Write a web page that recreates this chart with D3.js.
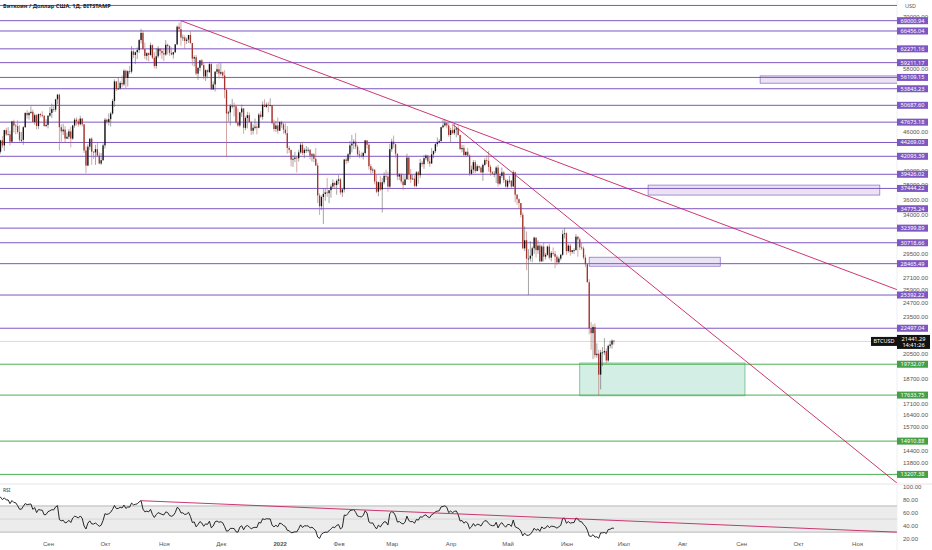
<!DOCTYPE html>
<html>
<head>
<meta charset="utf-8">
<script src="https://cdn.jsdelivr.net/npm/d3@7"></script>
<style>
  body { margin: 0; background: #fff; }
  svg { display: block; font-family: "Noto Sans", "DejaVu Sans", sans-serif; }
</style>
</head>
<body>
<div id="chart"></div>
<script>
// daily candles, [close, high, low] in thousands USD, first day 2021-07-20
const startDay = new Date(2021, 6, 20);
const firstOpen = 30.8;

const jul21 = [[29.8,30.8,29.3],[32.1,32.8,29.5],[32.3,32.6,31.7],[33.6,33.6,32.0],[34.3,34.5,33.4],[35.4,35.4,33.9],
  [37.3,40.5,35.3],[39.5,39.5,36.4],[40.0,40.9,38.8],[40.0,40.6,39.3],[42.2,42.3,38.3],[41.5,42.3,41.1]];
const aug21 = [[39.9,42.6,39.4],[39.2,40.4,38.7],[38.2,39.7,37.6],[39.7,39.9,37.5],[40.9,41.4,37.4],[42.8,43.0,39.9],[44.6,44.7,42.5],
  [43.8,45.3,43.4],[46.3,46.4,42.9],[45.6,46.7,45.3],[45.6,46.8,45.5],[44.4,46.2,43.8],[47.8,47.9,44.2],[47.1,48.1,45.9],
  [47.0,47.4,45.6],[46.0,48.0,45.7],[44.7,47.1,44.4],[44.7,46.0,44.3],[46.8,47.0,43.9],[49.3,49.4,46.7],[48.9,49.8,48.3],
  [49.3,49.5,48.1],[49.5,50.5,49.1],[47.7,49.9,47.6],[48.9,49.2,47.2],[47.0,49.1,46.4],[49.1,49.2,46.5],[48.9,49.3,48.5],
  [48.8,49.6,48.5],[47.0,48.9,46.9],[47.2,48.2,46.8]];
const sep21 = [[48.8,48.9,46.6],[49.3,50.4,48.6],[50.0,51.0,48.4],[49.9,50.6,49.5],[51.8,51.9,49.5],[52.7,52.8,50.9],[46.8,52.9,43.0],
  [46.1,47.3,44.4],[46.4,47.4,45.5],[44.9,47.0,44.2],[45.2,45.9,44.8],[46.1,46.5,44.8],[44.9,46.9,43.5],[47.1,47.2,44.7],
  [48.1,48.4,46.7],[47.8,48.5,47.1],[47.3,48.2,46.9],[48.3,48.8,47.1],[47.3,48.4,46.9],[43.0,47.3,42.6],[40.7,43.6,39.6],
  [43.6,44.0,40.6],[44.9,44.9,43.1],[42.8,45.1,40.8],[42.7,42.9,41.7],[43.2,43.9,40.8],[42.2,44.3,42.1],[41.0,42.7,40.9],
  [41.5,42.6,40.8],[43.8,44.1,41.4]];
const oct21 = [[48.1,48.4,43.3],[47.7,48.3,47.4],[48.2,49.2,47.1],[49.2,49.5,46.9],[51.5,51.9,49.0],[55.3,55.7,50.4],[53.8,55.3,53.4],
  [53.9,56.1,53.6],[55.0,55.4,53.7],[54.7,56.5,54.1],[57.5,57.8,54.4],[56.0,57.7,53.9],[57.4,57.6,54.3],[57.3,58.5,56.8],
  [61.7,62.9,56.9],[60.9,62.3,60.2],[61.5,61.7,58.9],[62.0,62.6,60.0],[64.3,64.5,61.4],[66.0,67.0,63.5],[62.2,66.6,62.0],
  [60.7,63.7,60.0],[61.3,61.5,59.7],[60.9,61.5,59.5],[63.1,63.7,60.7],[60.3,63.3,60.0],[58.5,61.5,58.0],[60.6,62.5,57.9],
  [62.3,62.9,60.2],[61.8,62.3,60.8],[61.3,62.4,60.0]];
const nov21 = [[61.0,62.4,59.5],[63.2,64.3,60.7],[62.9,63.5,61.0],[61.4,63.1,60.7],[61.0,62.6,60.8],[61.5,61.6,60.1],[63.3,63.3,61.3],
  [67.5,67.8,63.1],[66.9,68.5,66.3],[64.9,69.0,63.0],[64.9,65.6,64.1],[64.1,65.4,62.3],[64.4,64.9,63.4],[65.5,65.5,63.6],
  [63.6,66.4,63.4],[60.1,63.6,58.6],[60.4,60.8,58.4],[56.9,60.9,56.5],[58.1,58.3,55.6],[59.7,59.8,57.4],[58.7,60.0,58.5],
  [56.3,59.2,55.7],[57.6,57.8,55.4],[57.2,57.8,55.9],[58.9,59.4,57.0],[53.7,59.2,53.6],[54.7,55.3,53.7],[57.3,57.4,53.3],
  [57.8,58.9,56.8],[56.9,59.2,55.9]];
const dec21 = [[57.2,59.1,56.5],[56.5,57.4,55.8],[53.6,57.6,52.0],[49.2,53.9,42.0],[49.4,49.7,47.8],[50.6,50.9,47.1],[50.6,51.9,50.1],
  [50.5,51.2,48.7],[47.6,50.8,47.4],[47.1,50.1,46.9],[49.4,49.5,46.8],[50.1,50.8,48.6],[46.7,50.2,45.7],[48.4,48.7,46.3],
  [48.9,49.5,46.6],[47.7,49.4,47.6],[46.2,47.9,45.5],[46.7,47.3,45.6],[46.9,48.3,46.4],[46.7,47.5,45.6],[49.0,49.3,46.6],
  [48.6,49.6,48.4],[50.8,51.4,48.1],[50.4,51.8,50.4],[50.8,51.2,50.2],[50.7,51.3,49.4],[50.7,52.0,50.5],[47.5,50.7,47.3],
  [46.5,48.1,46.1],[47.1,47.9,46.0],[46.2,48.5,45.7]];
const jan22 = [[47.7,47.8,46.2],[47.3,47.9,46.7],[46.4,47.6,45.7],[45.8,47.5,45.5],[43.4,47.0,42.5],[43.1,43.7,42.6],[41.6,43.1,40.6],
  [41.7,42.3,40.5],[41.9,42.8,41.2],[41.8,42.2,39.7],[42.7,43.1,41.3],[43.9,44.3,42.5],[42.6,44.4,42.3],[43.1,43.4,41.8],
  [43.1,43.7,42.6],[43.1,43.5,42.7],[42.2,43.2,41.6],[42.4,42.6,41.3],[41.7,42.6,41.2],[40.7,43.4,40.6],[36.5,41.1,35.5],
  [35.1,36.8,34.0],[36.3,36.5,34.6],[36.7,37.5,32.9],[36.9,37.5,35.8],[36.8,38.9,36.3],[37.2,37.2,35.5],[37.7,38.0,36.2],
  [38.2,38.7,37.4],[37.9,38.4,37.4],[38.5,38.7,36.6]];
const feb22 = [[38.7,39.3,38.0],[36.9,38.9,36.6],[37.3,37.4,36.3],[41.6,41.7,36.9],[41.4,41.9,40.9],[42.4,42.6,41.1],[43.8,44.5,41.7],
  [44.1,45.5,42.7],[44.4,44.8,43.2],[43.6,45.8,43.2],[42.4,43.9,42.0],[42.2,43.0,41.8],[42.1,42.7,41.9],[42.6,42.8,41.6],
  [44.6,44.7,42.4],[43.9,44.6,43.3],[40.6,44.2,40.1],[40.0,40.9,39.5],[40.1,40.4,39.6],[38.4,40.1,38.0],[37.0,39.4,36.8],
  [38.3,38.4,36.4],[37.3,39.2,37.1],[38.3,38.9,34.3],[39.2,39.7,38.0],[39.1,40.1,38.6],[37.7,39.8,37.0],[43.2,44.1,37.5]];
const mar22 = [[44.4,44.9,42.8],[44.0,45.4,43.4],[42.5,44.1,41.9],[39.1,42.5,38.6],[39.4,39.6,38.6],[38.4,39.6,38.1],[37.9,39.5,37.2],
  [38.7,39.3,37.9],[41.9,42.5,38.7],[39.4,42.0,38.6],[38.7,40.2,38.2],[38.8,39.4,38.7],[37.8,39.3,37.6],[39.7,39.9,37.6],
  [39.3,39.9,38.1],[41.1,41.7,38.9],[40.9,41.4,40.5],[41.8,42.3,40.2],[42.2,42.4,41.5],[41.3,42.3,40.9],[41.0,42.0,40.5],
  [42.4,43.4,41.0],[42.9,43.0,41.8],[44.0,44.2,42.6],[44.3,45.1,43.6],[44.5,44.8,44.1],[46.8,46.9,44.4],[47.1,48.1,46.6],
  [47.5,48.2,46.9],[47.1,47.7,46.6],[45.5,47.6,45.2]];
const apr22 = [[46.3,46.7,44.2],[45.8,47.2,45.6],[46.4,47.4,45.5],[46.6,46.9,45.1],[45.5,47.1,45.4],[43.2,45.5,43.1],[43.4,43.9,42.7],
  [42.3,43.9,42.1],[42.8,42.8,42.1],[42.2,43.4,42.0],[39.5,42.4,39.2],[40.1,40.7,39.3],[41.2,41.5,39.6],[39.9,41.5,39.6],
  [40.6,40.9,39.8],[40.4,40.7,40.0],[39.7,40.6,39.6],[40.8,41.0,38.5],[41.5,41.8,40.6],[41.4,42.2,40.9],[40.5,42.9,39.8],
  [39.7,40.8,39.2],[39.5,39.9,39.4],[39.5,39.9,39.0],[40.4,40.6,38.2],[38.1,40.8,37.7],[39.2,39.5,37.9],[39.7,40.4,38.9],
  [38.6,39.9,38.2],[37.7,38.8,37.6]];
const may22 = [[38.5,38.7,37.4],[38.5,39.2,38.1],[37.7,38.6,37.5],[39.7,40.0,37.7],[36.6,39.8,35.6],[36.0,36.7,35.3],[35.5,36.1,34.8],
  [34.0,35.5,33.7],[30.1,34.3,30.0],[31.0,32.6,29.8],[29.0,32.0,27.8],[29.0,30.0,25.4],[29.3,30.9,28.7],[30.1,30.3,28.6],
  [31.3,31.4,29.5],[29.9,31.3,29.1],[30.4,31.0,29.5],[28.7,30.6,28.6],[30.3,30.5,28.7],[29.2,30.7,28.7],[29.4,29.6,28.9],
  [30.3,30.4,29.3],[29.1,30.6,28.9],[29.6,29.8,28.7],[29.5,30.2,29.3],[29.2,29.8,28.0],[28.6,29.4,28.3],[29.0,29.2,28.5],
  [29.4,29.5,28.8],[31.7,32.2,29.3],[31.8,32.4,31.2]];
const jun22 = [[29.8,31.9,29.4],[30.4,30.6,29.6],[29.7,30.6,29.3],[29.9,29.9,29.5],[29.9,30.1,29.5],[31.4,31.7,29.9],[31.1,31.5,29.2],
  [30.2,31.3,29.9],[30.1,30.7,29.9],[29.1,30.3,28.9],[28.4,29.4,28.1],[26.6,28.5,26.6],[22.5,26.9,22.0],[22.1,23.0,20.8],
  [22.6,22.8,20.1],[20.4,22.9,20.2],[20.5,21.3,20.2],[19.0,20.8,17.6],[20.6,20.8,18.0],[20.6,21.0,19.6],[20.7,21.7,20.4],
  [20.0,20.9,19.8],[21.1,21.2,19.9],[21.2,21.5,20.9],[21.5,21.6,20.9],[21.44,21.55,21.2]];

const lastPrice = 21441.29;
const lastTimer = "14:41:26";

// horizontal levels drawn on the chart
const topLevel = 72940;
const purpleLevels = [69000.94, 66456.04, 62271.16, 59211.17, 56109.15, 53843.23, 50687.60, 47673.18, 44269.03,
  42093.39, 39426.02, 37444.22, 34775.24, 32399.89, 30718.66, 28465.49, 25392.22, 22497.04];
const greenLevels = [19732.07, 17633.75, 14910.88, 13207.38];

// zones: [from, to, priceHigh, priceLow]
const purpleZones = [
  [new Date(2022, 8, 11), new Date(2022, 11, 31), 56420, 54940],
  [new Date(2022, 6, 14), new Date(2022, 10, 13), 37900, 36550],
  [new Date(2022, 5, 13), new Date(2022, 7, 21), 29140, 28200]
];
const greenZones = [[new Date(2022, 5, 8), new Date(2022, 8, 3), 19820, 17590]];

// trend lines: [date, value] pairs
const priceTrends = [
  [[new Date(2021, 10, 10), 69000], [new Date(2022, 10, 22), 25900]],
  [[new Date(2022, 3, 2), 47300], [new Date(2022, 10, 22), 12800]]
];
const rsiTrend = [[new Date(2021, 9, 20), 78], [new Date(2022, 10, 22), 30]];

const priceTicks = [70000, 58000, 46000, 40000, 38000, 36000, 34000, 29500, 27100, 25900,
  24700, 23500, 20500, 18700, 17100, 16400, 15700, 14400, 13800];
const rsiTicks = [100, 80, 60, 40, 20];
const monthTicks = d3.timeMonths(new Date(2021, 8, 1), new Date(2022, 10, 2));
const monthLabels = ["Сен", "Окт", "Ноя", "Дек", "2022", "Фев", "Мар", "Апр", "Май", "Июн", "Июл", "Авг", "Сен", "Окт", "Ноя"];

const W = 932, H = 550;
const paneRight = 897, priceBottom = 483, rsiTop = 484, rsiBottom = 541;
const purple = "#7e57c2", green = "#4caf50", trendColor = "#c2185b";

const candles = [].concat(jul21, aug21, sep21, oct21, nov21, dec21, jan22, feb22, mar22, apr22, may22, jun22)
  .map((d, i, arr) => ({
    date: d3.timeDay.offset(startDay, i),
    open: (i ? arr[i - 1][0] : firstOpen) * 1000,
    close: d[0] * 1000,
    high: d[1] * 1000,
    low: d[2] * 1000
  }));

// RSI 14 (Wilder) from the closes
function calcRsi(data, n) {
  let gain = 0, loss = 0;
  return data.map((d, i) => {
    if (i === 0) return null;
    const ch = d.close - data[i - 1].close;
    const up = Math.max(ch, 0), dn = Math.max(-ch, 0);
    if (i <= n) {
      gain += up / n; loss += dn / n;
      if (i < n) return null;
    } else {
      gain = (gain * (n - 1) + up) / n;
      loss = (loss * (n - 1) + dn) / n;
    }
    return {date: d.date, value: 100 - 100 / (1 + gain / loss)};
  }).filter(d => d);
}
const rsiData = calcRsi(candles, 14);

const x = d3.scaleTime().domain([new Date(2021, 8, 1), new Date(2022, 10, 1)]).range([48, 857]);
const y = d3.scaleLog().domain([12800, 74400]).range([priceBottom, 0]);
const yr = d3.scaleLinear().domain([20, 100]).range([538.7, 486.3]);

const svg = d3.select("#chart").append("svg").attr("width", W).attr("height", H);
svg.append("rect").attr("width", W).attr("height", H).attr("fill", "#fff");

const defs = svg.append("defs");
defs.append("clipPath").attr("id", "clipPrice").append("rect")
  .attr("x", 0).attr("y", 0).attr("width", paneRight).attr("height", priceBottom);
defs.append("clipPath").attr("id", "clipRsi").append("rect")
  .attr("x", 0).attr("y", rsiTop).attr("width", paneRight).attr("height", rsiBottom - rsiTop);

// pane separators
svg.append("line").attr("x1", 0).attr("x2", W).attr("y1", rsiTop).attr("y2", rsiTop).attr("stroke", "#e6e6e6");
svg.append("line").attr("x1", paneRight).attr("x2", paneRight).attr("y1", 0).attr("y2", H).attr("stroke", "#efefef");

// price axis (under the level labels)
svg.append("g").attr("transform", `translate(${paneRight},0)`)
  .call(d3.axisRight(y).tickValues(priceTicks).tickFormat(d3.format(".2f")).tickSize(0).tickPadding(6))
  .call(g => g.select(".domain").remove())
  .selectAll("text").attr("fill", "#555").style("font-size", "6px");

svg.append("text").attr("x", 905).attr("y", 8).attr("fill", "#555").style("font-size", "5.5px").text("USD");

const price = svg.append("g").attr("clip-path", "url(#clipPrice)");

// current price line
price.append("line").attr("x1", 0).attr("x2", paneRight)
  .attr("y1", y(lastPrice)).attr("y2", y(lastPrice)).attr("stroke", "#d0d0d0").attr("stroke-width", 0.8);

// zones
price.selectAll(".pzone").data(purpleZones).enter().append("rect")
  .attr("x", d => x(d[0])).attr("width", d => x(d[1]) - x(d[0]))
  .attr("y", d => y(d[2])).attr("height", d => y(d[3]) - y(d[2]))
  .attr("fill", "rgba(149,117,205,0.2)").attr("stroke", "#9575cd").attr("stroke-width", 0.8);
price.selectAll(".gzone").data(greenZones).enter().append("rect")
  .attr("x", d => x(d[0])).attr("width", d => x(d[1]) - x(d[0]))
  .attr("y", d => y(d[2])).attr("height", d => y(d[3]) - y(d[2]))
  .attr("fill", "rgba(56,176,130,0.22)").attr("stroke", "#66bb8a").attr("stroke-width", 0.8);

// level lines
price.append("line").attr("x1", 0).attr("x2", paneRight).attr("y1", y(topLevel)).attr("y2", y(topLevel))
  .attr("stroke", purple).attr("stroke-width", 1);
price.selectAll(".plevel").data(purpleLevels).enter().append("line")
  .attr("x1", 0).attr("x2", paneRight).attr("y1", d => y(d)).attr("y2", d => y(d))
  .attr("stroke", purple).attr("stroke-width", 1);
price.selectAll(".glevel").data(greenLevels).enter().append("line")
  .attr("x1", 0).attr("x2", paneRight).attr("y1", d => y(d)).attr("y2", d => y(d))
  .attr("stroke", green).attr("stroke-width", 1);

// candles
const bw = 1.3;
const cg = price.selectAll(".candle").data(candles).enter().append("g");
cg.append("line")
  .attr("x1", d => x(d.date)).attr("x2", d => x(d.date))
  .attr("y1", d => y(d.high)).attr("y2", d => y(d.low))
  .attr("stroke", d => d.close >= d.open ? "#666" : "#b86a6a").attr("stroke-width", 0.6);
cg.append("rect")
  .attr("x", d => x(d.date) - bw / 2).attr("width", bw)
  .attr("y", d => y(Math.max(d.open, d.close)))
  .attr("height", d => Math.max(0.8, Math.abs(y(d.open) - y(d.close))))
  .attr("fill", d => d.close >= d.open ? "#111" : "#a3332c");

// trend lines
price.selectAll(".trend").data(priceTrends).enter().append("line")
  .attr("x1", d => x(d[0][0])).attr("y1", d => y(d[0][1]))
  .attr("x2", d => x(d[1][0])).attr("y2", d => y(d[1][1]))
  .attr("stroke", trendColor).attr("stroke-width", 1).attr("opacity", 0.85);

// level labels
function levelLabel(v, bg) {
  const g = svg.append("g").attr("transform", `translate(${paneRight},${y(v)})`);
  g.append("rect").attr("x", 0).attr("y", -3.5).attr("width", 31).attr("height", 7).attr("fill", bg);
  g.append("text").attr("x", 15.5).attr("y", 2).attr("text-anchor", "middle")
    .attr("fill", "#fff").style("font-size", "5.6px").text(d3.format(".2f")(v));
}
purpleLevels.forEach(v => levelLabel(v, purple));
greenLevels.forEach(v => levelLabel(v, "#43a047"));

// last price labels
const ly = y(lastPrice);
svg.append("rect").attr("x", 871).attr("y", ly - 4.5).attr("width", 26).attr("height", 9).attr("fill", "#131313");
svg.append("text").attr("x", 884).attr("y", ly + 2).attr("text-anchor", "middle").attr("fill", "#fff")
  .style("font-size", "5.5px").text("BTCUSD");
svg.append("rect").attr("x", paneRight).attr("y", ly - 6.5).attr("width", 33).attr("height", 14).attr("fill", "#131313");
svg.append("text").attr("x", 913.5).attr("y", ly).attr("text-anchor", "middle").attr("fill", "#fff")
  .style("font-size", "5.6px").text(d3.format(".2f")(lastPrice));
svg.append("text").attr("x", 913.5).attr("y", ly + 6).attr("text-anchor", "middle").attr("fill", "#fff")
  .style("font-size", "5.6px").text(lastTimer);

// title
svg.append("text").attr("x", 3).attr("y", 8).attr("fill", "#222").style("font-size", "5.6px").style("font-weight", "bold")
  .text("Биткоин / Доллар США, 1Д, BITSTAMP");

// RSI pane
const rsi = svg.append("g").attr("clip-path", "url(#clipRsi)");
rsi.append("rect").attr("x", 0).attr("width", paneRight).attr("y", yr(70)).attr("height", yr(30) - yr(70)).attr("fill", "#ececec");
[[70, "#a8a8a8"], [50, "#cfcfcf"], [30, "#a8a8a8"]].forEach(([v, c]) => {
  rsi.append("line").attr("x1", 0).attr("x2", paneRight).attr("y1", yr(v)).attr("y2", yr(v)).attr("stroke", c).attr("stroke-width", 0.8);
});
rsi.append("path").datum(rsiData)
  .attr("d", d3.line().x(d => x(d.date)).y(d => yr(d.value)))
  .attr("fill", "none").attr("stroke", "#111").attr("stroke-width", 0.9);
rsi.append("line")
  .attr("x1", x(rsiTrend[0][0])).attr("y1", yr(rsiTrend[0][1]))
  .attr("x2", x(rsiTrend[1][0])).attr("y2", yr(rsiTrend[1][1]))
  .attr("stroke", trendColor).attr("stroke-width", 1).attr("opacity", 0.85);
svg.append("text").attr("x", 3).attr("y", 492).attr("fill", "#333").style("font-size", "5px").text("RSI");

svg.append("g").attr("transform", `translate(${paneRight},0)`)
  .call(d3.axisRight(yr).tickValues(rsiTicks).tickFormat(d3.format(".2f")).tickSize(0).tickPadding(6))
  .call(g => g.select(".domain").remove())
  .selectAll("text").attr("fill", "#555").style("font-size", "6px");

// time axis
svg.append("g").attr("transform", `translate(0,${rsiBottom})`)
  .call(d3.axisBottom(x).tickValues(monthTicks).tickFormat((d, i) => monthLabels[i]).tickSize(0).tickPadding(1))
  .call(g => g.select(".domain").remove())
  .selectAll("text").attr("fill", "#555").style("font-size", "6px")
  .style("font-weight", (d, i) => monthLabels[i] === "2022" ? "bold" : "normal");
</script>
</body>
</html>
